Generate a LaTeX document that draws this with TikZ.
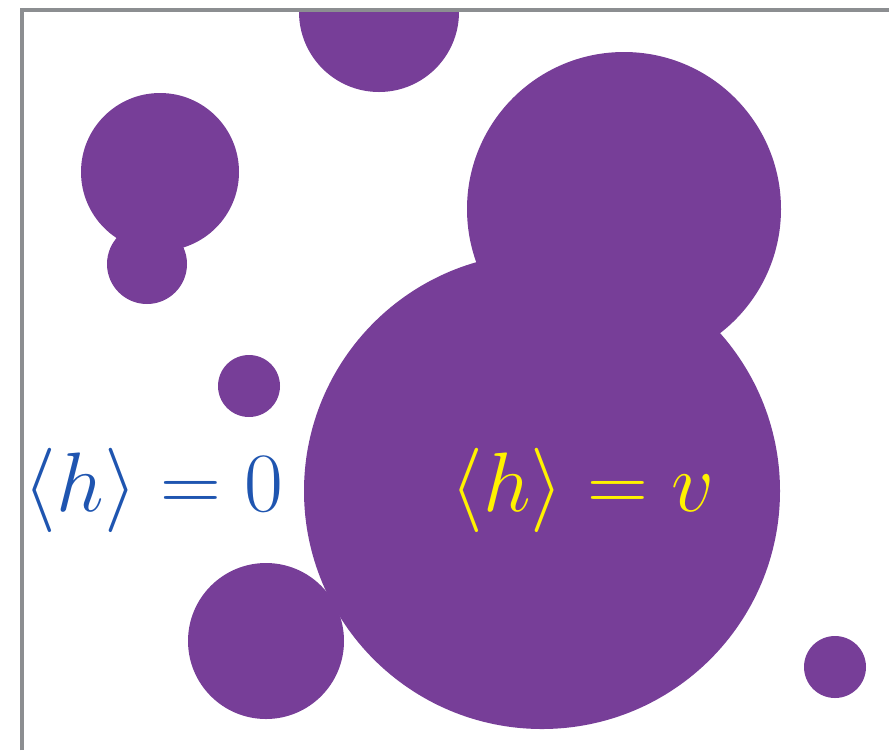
\documentclass[tikz,border=0pt]{standalone}
\usepackage{amsmath,amssymb}
\usepackage{tikz}
\usepackage{xcolor}
\definecolor{bubble}{HTML}{773E98}
\definecolor{symblue}{HTML}{1F55B0}
\definecolor{framegray}{HTML}{8C8E91}

\begin{document}
\begin{tikzpicture}[
  bubblefill/.style={fill=bubble},
  vevlabel/.style={font=\fontsize{45}{50}\selectfont, inner sep=0pt, scale=1.93, transform shape},
  frameline/.style={draw=framegray, line width=0.08cm}
]
\useasboundingbox (0,0) rectangle (17.78,-15);
\begin{scope}
\clip (0.44,-0.2) rectangle (17.78,-15);
\foreach \cx/\cy/\r in {7.58/-0.24/1.6, 3.2/-3.44/1.58, 2.94/-5.28/0.8,
  4.98/-7.72/0.62, 12.48/-4.18/3.14, 10.84/-9.82/4.76,
  5.32/-12.82/1.56, 16.7/-13.34/0.62}
  {\fill[bubblefill] (\cx,\cy) circle (\r);}
\end{scope}
\node[vevlabel, text=symblue] (outside) at (3.07,-9.8) {$\langle h\rangle = 0$};
\node[vevlabel, text=yellow] (inside) at (11.65,-9.8) {$\langle h\rangle = v$};
\draw[frameline] (0.44,-15) -- (0.44,-0.2) -- (17.78,-0.2);
\end{tikzpicture}
\end{document}
